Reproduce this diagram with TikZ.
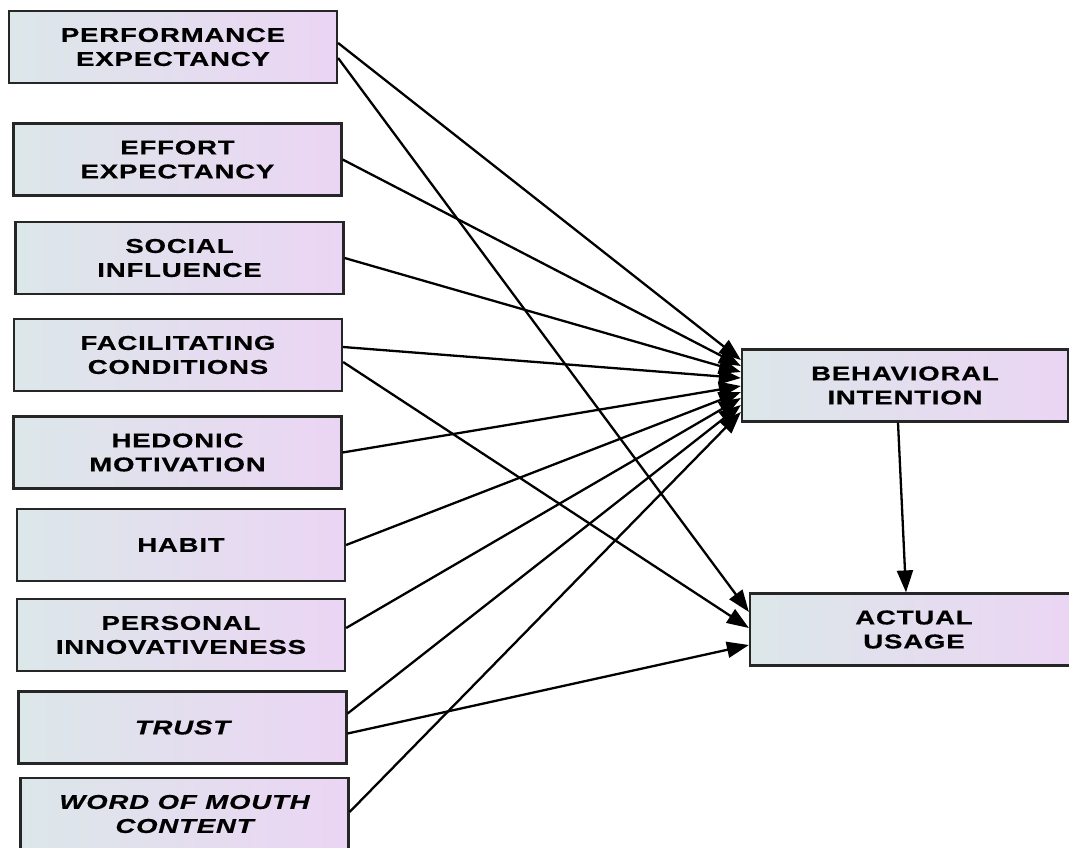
\documentclass[tikz,border=0pt]{standalone}
\usepackage{fontspec}
\newfontfamily\boxfont{Liberation Sans}[FakeStretch=1.38,LetterSpace=4,FakeBold=0.6]
\usetikzlibrary{arrows.meta}

\definecolor{shadeleft}{RGB}{220,231,233}
\definecolor{shaderight}{RGB}{235,213,244}

\tikzset{
  construct/.style={draw=black!85, line width=2.2pt,
    left color=shadeleft, right color=shaderight,
    minimum width=328pt, minimum height=72pt, inner sep=0pt,
    align=center, text=black,
    font=\boxfont\bfseries\fontsize{20}{24}\selectfont},
  path/.style={line width=2.3pt, draw=black,
    -{Triangle[length=22pt,width=16pt]}},
}

\begin{document}
\begin{tikzpicture}[x=1pt,y=1pt]
  \path[use as bounding box, fill=white] (0,0) rectangle (1069,-848);
  \clip (0,0) rectangle (1069,-848);

  % predictors
  \node[construct] (pe)    at (173,-47)    {PERFORMANCE\\EXPECTANCY};
  \node[construct] (ee)    at (177.5,-159.5) {EFFORT\\EXPECTANCY};
  \node[construct] (si)    at (179.5,-258) {SOCIAL\\INFLUENCE};
  \node[construct] (fc)    at (178,-355)   {FACILITATING\\CONDITIONS};
  \node[construct] (hm)    at (177.5,-452.5) {HEDONIC\\MOTIVATION};
  \node[construct] (habit) at (181,-545)   {HABIT};
  \node[construct] (pi)    at (181,-635)   {PERSONAL\\INNOVATIVENESS};
  \node[construct] (trust) at (182.5,-727.5) {\itshape TRUST};
  \node[construct] (wom)   at (184.5,-814) {\itshape WORD OF MOUTH\\\itshape CONTENT};

  % outcomes
  \node[construct, minimum width=326pt] (bi) at (905,-385.5) {BEHAVIORAL\\INTENTION};
  \node[construct] (au) at (914,-629.5) {ACTUAL\\USAGE};

  % paths into behavioral intention
  \draw[path] ([yshift=4pt]pe.east)    -- ([yshift=25.5pt]bi.west);
  \draw[path] (ee.east)                -- ([yshift=19.5pt]bi.west);
  \draw[path] (si.east)                -- ([yshift=13.5pt]bi.west);
  \draw[path] ([yshift=8pt]fc.east)    -- ([yshift=7.5pt]bi.west);
  \draw[path] (hm.east)                -- ([yshift=-0.5pt]bi.west);
  \draw[path] (habit.east)             -- ([yshift=-6.5pt]bi.west);
  \draw[path] ([yshift=7pt]pi.east)    -- ([yshift=-12.5pt]bi.west);
  \draw[path] ([yshift=14pt]trust.east) -- ([yshift=-19.5pt]bi.west);
  \draw[path] ([yshift=2pt]wom.east)   -- ([yshift=-26.5pt]bi.west);

  % paths into actual usage
  \draw[path] ([yshift=-11pt]pe.east)  -- ([yshift=17.5pt]au.west);
  \draw[path] ([yshift=-7pt]fc.east)   -- ([yshift=1.5pt]au.west);
  \draw[path] ([yshift=-6pt]trust.east) -- ([yshift=-15.5pt]au.west);
  \draw[path] ([xshift=-7pt]bi.south)  -- ([xshift=-8pt]au.north);
\end{tikzpicture}
\end{document}
